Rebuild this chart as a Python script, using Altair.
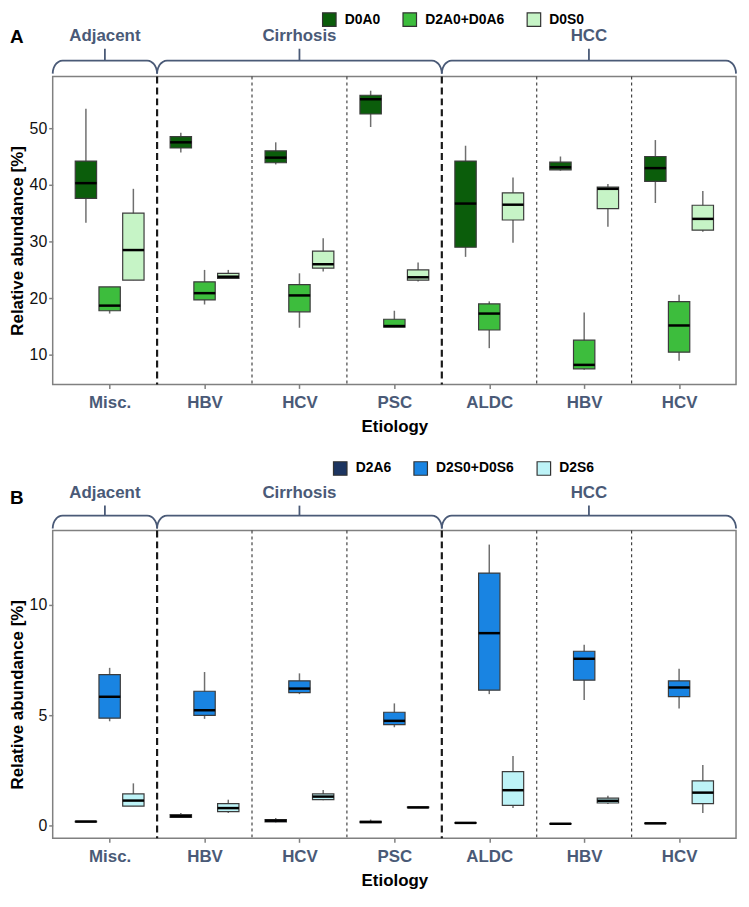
import json
import math
import altair as alt
import pandas as pd

# ---------------- data ----------------
ETIOLOGY = ["Misc.", "HBV", "HCV", "PSC", "ALDC", "HBV", "HCV"]
GROUPS = ["Adjacent", "Cirrhosis", "HCC"]
GROUP_SIZES = [1, 3, 3]

SERIES_A = ["D0A0", "D2A0+D0A6", "D0S0"]
COLORS_A = ["#0b5d0b", "#3dbd3d", "#c6f4c6"]
SERIES_B = ["D2A6", "D2S0+D0S6", "D2S6"]
COLORS_B = ["#1d3561", "#1984e2", "#bdf3f7"]

# (lower whisker, Q1, median, Q3, upper whisker) per etiology, in ETIOLOGY order
D0A0 = [(33.3, 37.6, 40.3, 44.2, 53.4), (45.7, 46.5, 47.5, 48.5, 49.2),
        (43.6, 43.9, 44.8, 46.0, 47.5), (50.2, 52.5, 55.1, 55.8, 56.6),
        (27.3, 29.0, 36.7, 44.2, 46.9), (42.5, 42.65, 43.1, 44.0, 45.0),
        (36.8, 40.6, 42.95, 45.0, 47.9)]
D2A0_D0A6 = [(17.3, 17.8, 18.7, 22.0, 22.0), (18.9, 19.7, 20.9, 22.9, 25.0),
             (14.8, 17.6, 20.5, 22.4, 24.4), (14.9, 14.9, 15.1, 16.3, 17.8),
             (11.2, 14.4, 17.3, 19.0, 19.45), (7.4, 7.55, 8.25, 12.6, 17.5),
             (9.0, 10.5, 15.2, 19.4, 20.6)]
D0S0 = [(23.2, 23.2, 28.5, 35.0, 39.3), (23.5, 23.5, 23.8, 24.4, 25.0),
        (24.7, 25.3, 26.0, 28.3, 30.6), (22.95, 23.2, 23.7, 25.0, 26.3),
        (29.8, 33.8, 36.5, 38.6, 41.3), (32.6, 35.8, 39.3, 39.6, 40.15),
        (31.75, 32.0, 34.0, 36.4, 38.9)]

D2A6 = [(0.16, 0.17, 0.18, 0.19, 0.20), (0.35, 0.37, 0.42, 0.49, 0.57),
        (0.14, 0.16, 0.22, 0.27, 0.34), (0.12, 0.13, 0.16, 0.19, 0.27),
        (0.10, 0.11, 0.12, 0.13, 0.14), (0.06, 0.07, 0.08, 0.09, 0.10),
        (0.08, 0.09, 0.10, 0.11, 0.12)]
D2S0_D0S6 = [(4.72, 4.86, 5.83, 6.83, 7.14), (4.83, 4.99, 5.22, 6.08, 6.95),
             (5.95, 6.02, 6.20, 6.55, 6.89), (4.45, 4.57, 4.74, 5.13, 5.53),
             (5.95, 6.13, 8.71, 11.43, 12.72), (5.68, 6.58, 7.55, 7.89, 8.19),
             (5.30, 5.84, 6.25, 6.55, 7.10)]
D2S6 = [(0.88, 0.88, 1.13, 1.43, 1.91), (0.57, 0.63, 0.79, 0.99, 1.17),
        (1.15, 1.17, 1.31, 1.43, 1.61), (0.80, 0.81, 0.82, 0.84, 0.85),
        (0.79, 0.91, 1.60, 2.44, 3.15), (0.97, 1.02, 1.12, 1.24, 1.35),
        (0.57, 0.99, 1.49, 2.02, 2.74)]

Y_DOMAIN_A = [4.8, 59.1]
Y_TICKS_A = [10, 20, 30, 40, 50]
Y_DOMAIN_B = [-0.58, 13.36]
Y_TICKS_B = [0, 5, 10]

# ---------------- layout / style ----------------
W, H = 688, 310
X_DOMAIN = [0.4, 7.6]
DODGE = 0.25
BOX_HALF = 0.1125
FONT = "Liberation Sans"
SLATE = "#4a5a77"
GRAY = "#808080"


def box_frame(series_names, series_stats):
    rows = []
    for si, (name, stats) in enumerate(zip(series_names, series_stats)):
        for ci, (lo, q1, med, q3, hi) in enumerate(stats):
            pos = ci + 1 + (si - 1) * DODGE
            rows.append(dict(series=name, etiology=ETIOLOGY[ci], pos=pos,
                             left=pos - BOX_HALF, right=pos + BOX_HALF,
                             lo=lo, q1=q1, med=med, q3=q3, hi=hi))
    return pd.DataFrame(rows)


# group boundaries (category index space)
bounds = [X_DOMAIN[0]]
acc = 0
for s in GROUP_SIZES:
    acc += s
    bounds.append(acc + 0.5)
bounds[-1] = X_DOMAIN[1]
major_div = pd.DataFrame({"x": bounds[1:-1]})
minor_div = pd.DataFrame({"x": [i + 0.5 for i in range(1, len(ETIOLOGY))
                                if (i + 0.5) not in bounds]})
group_df = pd.DataFrame({
    "group": GROUPS,
    "center": [(bounds[i] + bounds[i + 1]) / 2 for i in range(len(GROUPS))],
})


def brace_frame(end_y, line_y, rx_px=10.0, n=8):
    rx = rx_px / (W / (X_DOMAIN[1] - X_DOMAIN[0]))
    rows = []
    for g in range(len(GROUPS)):
        xa, xb = bounds[g], bounds[g + 1]
        k = 0
        for i in range(n):
            t = math.radians(90 * i / (n - 1))
            rows.append(dict(brace=GROUPS[g], ord=k, bx=xa + rx * (1 - math.cos(t)),
                             by=end_y + (line_y - end_y) * math.sin(t)))
            k += 1
        for i in reversed(range(n)):
            t = math.radians(90 * i / (n - 1))
            rows.append(dict(brace=GROUPS[g], ord=k, bx=xb - rx * (1 - math.cos(t)),
                             by=end_y + (line_y - end_y) * math.sin(t)))
            k += 1
    return pd.DataFrame(rows)


label_expr = " : ".join(
    f"datum.value == {i + 1} ? {json.dumps(name)}" for i, name in enumerate(ETIOLOGY)
) + " : ''"


def panel(df, series, colors, y_domain, y_ticks, letter, leg_x, leg_y,
          letter_y, label_y, end_y, line_y, tick_top):
    xs = alt.Scale(domain=X_DOMAIN, nice=False, zero=False)
    ys = alt.Scale(domain=y_domain, nice=False, zero=False)
    x_axis = alt.Axis(values=list(range(1, len(ETIOLOGY) + 1)), labelExpr=label_expr,
                      title="Etiology", labelFontSize=17, labelFontWeight="bold",
                      labelColor=SLATE, labelFont=FONT, labelPadding=6,
                      tickSize=4, tickColor=GRAY, tickWidth=1.5, domain=False, grid=False,
                      titleFont=FONT, titleFontSize=17, titleFontWeight="bold",
                      titleColor="black", titlePadding=8)
    y_axis = alt.Axis(values=y_ticks, title="Relative abundance [%]",
                      labelFontSize=16, labelColor="#111111", labelFont=FONT,
                      labelPadding=2, tickSize=4, tickColor=GRAY, tickWidth=1.5,
                      domain=False, grid=False, titleFont=FONT, titleFontSize=17,
                      titleFontWeight="bold", titleColor="black",
                      titleX=-26, titleY=165)
    X = lambda f: alt.X(f, scale=xs, axis=x_axis)
    Y = lambda f: alt.Y(f, scale=ys, axis=y_axis)

    base = alt.Chart(df)
    whisk = base.mark_rule(color="#6f6f6f", strokeWidth=1.5).encode(
        x=X("pos:Q"), y=Y("lo:Q"), y2="hi:Q")
    box = base.mark_rect(stroke="#3c3c3c", strokeWidth=1.2).encode(
        x=X("left:Q"), x2="right:Q", y=Y("q1:Q"), y2="q3:Q",
        fill=alt.Fill("series:N", scale=alt.Scale(domain=series, range=colors),
                      legend=alt.Legend(title=None, orient="none", legendX=leg_x,
                                        legendY=leg_y, direction="horizontal",
                                        labelFont=FONT, labelFontSize=14,
                                        labelFontWeight="bold", labelColor="black",
                                        symbolType="square", symbolSize=185,
                                        symbolStrokeColor="#333333",
                                        symbolStrokeWidth=1.2, symbolOpacity=1,
                                        columnPadding=20, labelOffset=8, padding=0)))
    med = base.mark_rule(color="black", strokeWidth=2.5).encode(
        x=X("left:Q"), x2="right:Q", y=Y("med:Q"))

    major = alt.Chart(major_div).mark_rule(
        color="#1a1a1a", strokeWidth=2.2, strokeDash=[7, 4]).encode(x=X("x:Q"))
    minor = alt.Chart(minor_div).mark_rule(
        color="#333333", strokeWidth=1.1, strokeDash=[3, 3]).encode(x=X("x:Q"))

    brace = alt.Chart(brace_frame(end_y, line_y)).mark_line(
        color=SLATE, strokeWidth=1.8, clip=False).encode(
        x=X("bx:Q"),
        y=alt.Y("by:Q", scale=None, axis=None),
        detail="brace:N", order="ord:Q")
    gchart = alt.Chart(group_df)
    btick = gchart.mark_rule(color=SLATE, strokeWidth=1.8).encode(
        x=X("center:Q"), y=alt.value(tick_top), y2=alt.value(line_y))
    blabel = gchart.mark_text(font=FONT, fontSize=17, fontWeight="bold",
                              color=SLATE, baseline="middle").encode(
        x=X("center:Q"), y=alt.value(label_y), text="group:N")
    letter_t = alt.Chart(pd.DataFrame({"t": [letter]})).mark_text(
        font=FONT, fontSize=19, fontWeight="bold", color="black", align="left",
        baseline="middle").encode(x=alt.value(-43), y=alt.value(letter_y), text="t:N")

    main = alt.layer(minor, major, whisk, box, med)
    deco = alt.layer(brace, btick, blabel, letter_t)
    return alt.layer(main, deco).resolve_scale(y="independent").properties(
        width=W, height=H)


dfA = box_frame(SERIES_A, [D0A0, D2A0_D0A6, D0S0])
dfB = box_frame(SERIES_B, [D2A6, D2S0_D0S6, D2S6])

pA = panel(dfA, SERIES_A, COLORS_A, Y_DOMAIN_A, Y_TICKS_A, "A", 271, -65,
           -40, -41, -3, -16, -28)
pB = panel(dfB, SERIES_B, COLORS_B, Y_DOMAIN_B, Y_TICKS_B, "B", 282, -70,
           -33, -38, -2, -15, -25)

chart = alt.vconcat(pA, pB, spacing=25).resolve_scale(
    fill="independent", x="independent", y="independent"
).properties(padding=0, background="white").configure_view(
    stroke=GRAY, strokeWidth=1.5)

chart.save("out.html", embed_options={"renderer": "svg", "actions": False})
